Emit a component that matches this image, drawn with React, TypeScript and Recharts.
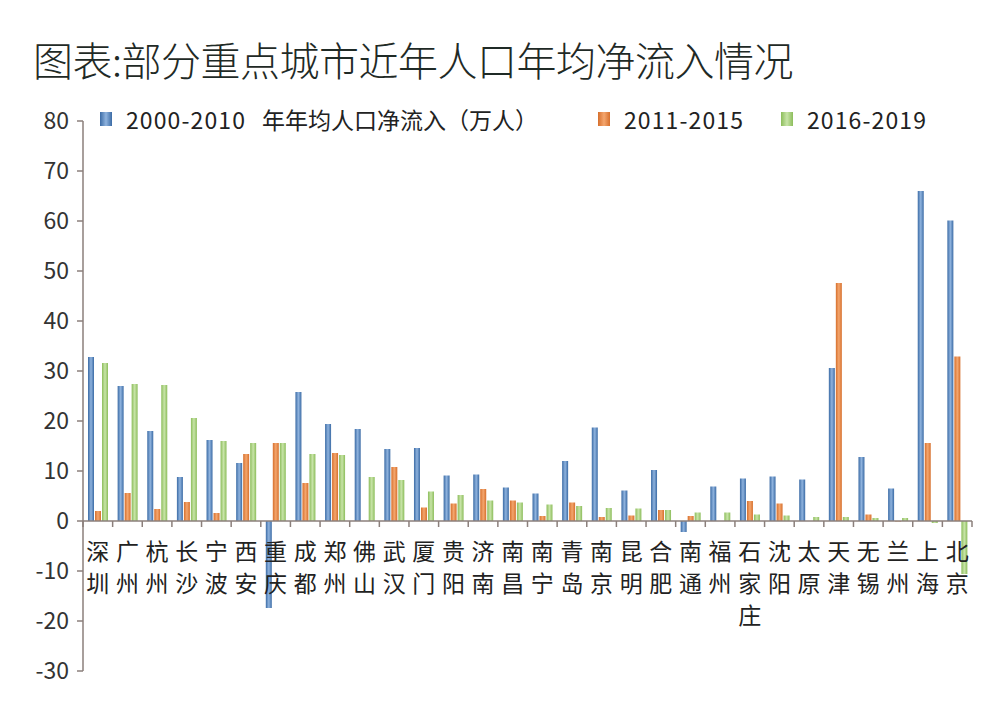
import React from 'react';
import { BarChart, Bar, XAxis, YAxis, Legend, ReferenceLine } from 'recharts';

const cities = [
  '深圳', '广州', '杭州', '长沙', '宁波', '西安', '重庆', '成都', '郑州', '佛山',
  '武汉', '厦门', '贵阳', '济南', '南昌', '南宁', '青岛', '南京', '昆明', '合肥',
  '南通', '福州', '石家庄', '沈阳', '太原', '天津', '无锡', '兰州', '上海', '北京',
];

const inflow2000_2010 = [
  32.8, 27.0, 18.0, 8.8, 16.2, 11.6, -17.4, 25.8, 19.4, 18.4,
  14.4, 14.6, 9.1, 9.3, 6.7, 5.5, 12.0, 18.7, 6.1, 10.2,
  -2.2, 6.9, 8.5, 8.9, 8.3, 30.6, 12.8, 6.5, 66.0, 60.1,
];
const inflow2011_2015 = [
  2.0, 5.6, 2.4, 3.8, 1.6, 13.4, 15.6, 7.6, 13.6, 0,
  10.8, 2.7, 3.5, 6.4, 4.1, 1.0, 3.7, 0.8, 1.1, 2.2,
  1.0, 0, 4.0, 3.5, 0, 47.6, 1.3, -0.1, 15.6, 32.9,
];
const inflow2016_2019 = [
  31.6, 27.4, 27.2, 20.6, 16.0, 15.6, 15.6, 13.4, 13.2, 8.8,
  8.2, 5.9, 5.2, 4.1, 3.7, 3.3, 3.0, 2.6, 2.5, 2.2,
  1.7, 1.7, 1.3, 1.1, 0.8, 0.8, 0.6, 0.6, -0.4, -10.6,
];

const yTicks = [-30, -20, -10, 0, 10, 20, 30, 40, 50, 60, 70, 80];

const seriesNames = ['2000-2010 年年均人口净流入（万人）', '2011-2015', '2016-2019'];

const data = cities.map((city, i) => ({
  city,
  a: inflow2000_2010[i],
  b: inflow2011_2015[i],
  c: inflow2016_2019[i],
}));

const FONT = '"Noto Sans CJK SC", "Noto Sans", sans-serif';
const W = 1008;
const H = 727;
const PLOT_LEFT = 83;
const PLOT_RIGHT = 972;
const PLOT_TOP = 121;
const PLOT_BOTTOM = 671;
const AXIS_COLOR = '#8b7f7b';
const BAND = (PLOT_RIGHT - PLOT_LEFT) / cities.length;
const ZERO_Y = PLOT_TOP + (80 / 110) * (PLOT_BOTTOM - PLOT_TOP);

const CityTick = (props: any) => {
  const { x, index, payload } = props;
  const chars = String(payload.value).split('');
  return (
    <g>
      <line x1={x - BAND / 2} x2={x - BAND / 2} y1={ZERO_Y} y2={ZERO_Y + 6} stroke={AXIS_COLOR} strokeWidth={1.5} />
      {index === cities.length - 1 && (
        <line x1={x + BAND / 2} x2={x + BAND / 2} y1={ZERO_Y} y2={ZERO_Y + 6} stroke={AXIS_COLOR} strokeWidth={1.5} />
      )}
      {chars.map((ch, i) => (
        <text key={i} x={x} y={ZERO_Y + 39 + i * 32} textAnchor="middle" fontSize={23} fill="#222" fontFamily={FONT}>
          {ch}
        </text>
      ))}
    </g>
  );
};

const legendColors = [
  ['#3b6ba5', '#8fb3de'],
  ['#d66f2c', '#f4a66e'],
  ['#8cbd5b', '#c8e4a8'],
];
const legendLeft = [100, 598, 781];

// the year part of a label is set a bit wider, like the source
const LegendLabel = ({ name }: { name: string }) => {
  const [years, ...rest] = name.split(' ');
  return (
    <span style={{ fontSize: 23, color: '#222', whiteSpace: 'nowrap' }}>
      <span style={{ letterSpacing: 1.1 }}>{years}</span>
      {rest.length > 0 && <span style={{ marginLeft: 16 }}>{rest.join(' ')}</span>}
    </span>
  );
};

// zero-height box so the legend takes no room from the plot
const LegendContent = () => (
  <div style={{ position: 'relative', width: W, height: 0, fontFamily: FONT }}>
    {seriesNames.map((name, i) => (
      <div key={name} style={{ position: 'absolute', left: legendLeft[i], top: 0, display: 'flex', alignItems: 'center', height: 30 }}>
        <span
          style={{
            display: 'inline-block',
            width: 12,
            height: 14,
            background: `linear-gradient(to right, ${legendColors[i][0]}, ${legendColors[i][1]}, ${legendColors[i][0]})`,
            marginRight: 14,
          }}
        />
        <LegendLabel name={name} />
      </div>
    ))}
  </div>
);

export default function App() {
  return (
    <div style={{ position: 'absolute', left: 0, top: 0, width: W, height: H, background: '#fff' }}>
      <div
        style={{
          position: 'absolute',
          left: 33,
          top: 30,
          fontSize: 40,
          fontFamily: FONT,
          fontWeight: 300,
          color: '#1f2a26',
          whiteSpace: 'nowrap',
          letterSpacing: -0.5,
        }}
      >
        图表:部分重点城市近年人口年均净流入情况
      </div>
      <BarChart
        width={W}
        height={H}
        data={data}
        margin={{ top: PLOT_TOP, right: W - PLOT_RIGHT, bottom: H - PLOT_BOTTOM - 1, left: 0 }}
        barCategoryGap="16%"
        barGap={1}
      >
        <defs>
          {legendColors.map((c, i) => (
            <linearGradient key={i} id={`grad${i}`} x1="0" y1="0" x2="1" y2="0">
              <stop offset="0%" stopColor={c[0]} />
              <stop offset="50%" stopColor={c[1]} />
              <stop offset="100%" stopColor={c[0]} />
            </linearGradient>
          ))}
        </defs>
        <XAxis
          dataKey="city"
          height={1}
          axisLine={false}
          tickLine={false}
          interval={0}
          tick={<CityTick />}
        />
        <YAxis
          width={PLOT_LEFT}
          domain={[-30, 80]}
          ticks={yTicks}
          interval={0}
          stroke={AXIS_COLOR}
          axisLine={{ stroke: AXIS_COLOR, strokeWidth: 1.5 }}
          tickLine={{ stroke: AXIS_COLOR, strokeWidth: 1.5 }}
          tickSize={6}
          tickMargin={8}
          tick={{ fontSize: 23, fill: '#333', fontFamily: FONT }}
        />
        <Legend
          verticalAlign="top"
          content={<LegendContent />}
          wrapperStyle={{ top: 104, left: 0, width: W, height: 0 }}
        />
        <Bar dataKey="a" name={seriesNames[0]} fill="url(#grad0)" barSize={6} isAnimationActive={false} />
        <Bar dataKey="b" name={seriesNames[1]} fill="url(#grad1)" barSize={6} isAnimationActive={false} />
        <Bar dataKey="c" name={seriesNames[2]} fill="url(#grad2)" barSize={6} isAnimationActive={false} />
        <ReferenceLine y={0} stroke={AXIS_COLOR} strokeWidth={1.5} />
      </BarChart>
    </div>
  );
}
